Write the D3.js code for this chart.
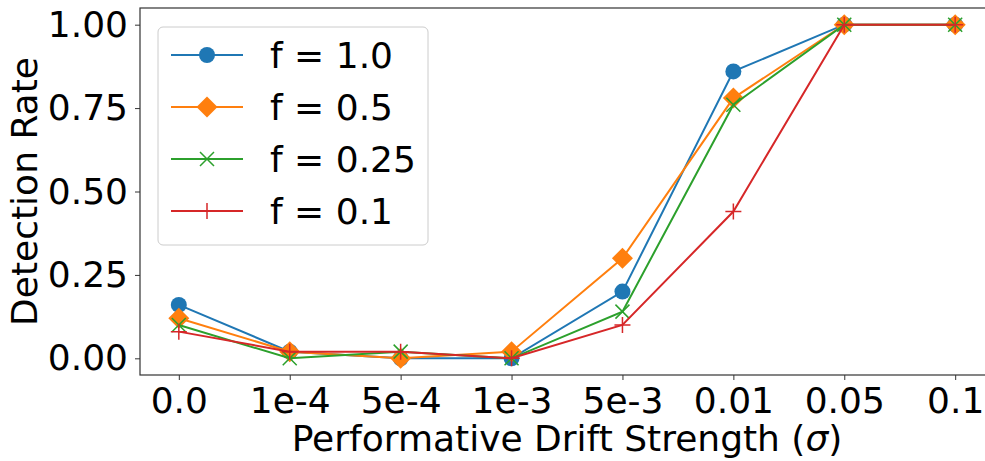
<!DOCTYPE html>
<html lang="en">
<head>
    <meta charset="UTF-8">
    <title>Detection Rate vs Performative Drift Strength</title>
    <script src="https://d3js.org/d3.v7.min.js"></script>
    <style>
        body { margin: 0; background-color: #fff; }
        svg { display: block; font-family: "DejaVu Sans", sans-serif; }
    </style>
</head>
<body>
    <div id="chart"></div>
    <script>
        // Data
        const categories = ["0.0", "1e-4", "5e-4", "1e-3", "5e-3", "0.01", "0.05", "0.1"];
        const yTicks = [0, 0.25, 0.5, 0.75, 1.0];
        const seriesNames = ["f = 1.0", "f = 0.5", "f = 0.25", "f = 0.1"];
        const f100 = [0.16, 0.02, 0.00, 0.00, 0.20, 0.86, 1.00, 1.00];
        const f050 = [0.12, 0.02, 0.00, 0.02, 0.30, 0.78, 1.00, 1.00];
        const f025 = [0.10, 0.00, 0.02, 0.00, 0.14, 0.76, 1.00, 1.00];
        const f010 = [0.08, 0.02, 0.02, 0.00, 0.10, 0.44, 1.00, 1.00];

        const colors = ["#1f77b4", "#ff7f0e", "#2ca02c", "#d62728"];
        const markers = ["circle", "diamond", "x", "plus"];
        const series = [f100, f050, f025, f010].map((vals, i) => ({
            name: seriesNames[i], values: vals, color: colors[i], marker: markers[i]
        }));

        const width = 985, height = 461;
        const fontSize = 36;

        const svg = d3.select("#chart").append("svg")
            .attr("width", width)
            .attr("height", height);

        // Scales (matplotlib-style 5% margins)
        const x = d3.scaleLinear().domain([-0.35, categories.length - 1 + 0.35]).range([140, 994]);
        const y = d3.scaleLinear().domain([-0.05, 1.05]).range([375, 8]);

        // Axes
        const xAxis = d3.axisBottom(x)
            .tickValues(d3.range(categories.length))
            .tickFormat(i => categories[i])
            .tickSize(5).tickPadding(7);
        const yAxis = d3.axisLeft(y)
            .tickValues(yTicks)
            .tickFormat(d3.format(".2f"))
            .tickSize(5).tickPadding(7);

        const gx = svg.append("g").attr("transform", `translate(0,${y.range()[0]})`).call(xAxis);
        const gy = svg.append("g").attr("transform", `translate(${x.range()[0]},0)`).call(yAxis);
        [gx, gy].forEach(g => {
            g.select(".domain").remove();
            g.selectAll(".tick line").attr("stroke", "#333").attr("stroke-width", 1);
            g.selectAll(".tick text")
                .attr("fill", "#000")
                .style("font-size", fontSize + "px")
                .style("font-family", "DejaVu Sans");
        });

        // Spines
        svg.append("rect")
            .attr("x", x.range()[0]).attr("y", y.range()[1])
            .attr("width", x.range()[1] - x.range()[0])
            .attr("height", y.range()[0] - y.range()[1])
            .attr("fill", "none").attr("stroke", "#333").attr("stroke-width", 1.2);

        // Axis labels
        svg.append("text")
            .attr("x", (x.range()[0] + x.range()[1]) / 2)
            .attr("y", 451)
            .attr("text-anchor", "middle")
            .style("font-size", fontSize + "px")
            .text("Performative Drift Strength (")
            .call(t => {
                t.append("tspan").style("font-style", "italic").text("σ");
                t.append("tspan").text(")");
            });

        svg.append("text")
            .attr("transform", `translate(37,${(y.range()[0] + y.range()[1]) / 2}) rotate(-90)`)
            .attr("text-anchor", "middle")
            .style("font-size", fontSize + "px")
            .text("Detection Rate");

        // Marker drawing
        function drawMarker(g, type, color) {
            if (type === "circle") {
                g.append("circle").attr("r", 8).attr("fill", color);
            } else if (type === "diamond") {
                g.append("path").attr("d", "M0,-10.5L10.5,0L0,10.5L-10.5,0Z").attr("fill", color);
            } else if (type === "x") {
                g.append("path").attr("d", "M-7,-7L7,7M-7,7L7,-7")
                    .attr("stroke", color).attr("stroke-width", 1.5).attr("fill", "none");
            } else {
                g.append("path").attr("d", "M-8,0L8,0M0,-8L0,8")
                    .attr("stroke", color).attr("stroke-width", 1.5).attr("fill", "none");
            }
        }

        const line = d3.line().x((d, i) => x(i)).y(d => y(d));

        // Series
        series.forEach(s => {
            const g = svg.append("g");
            g.append("path")
                .datum(s.values)
                .attr("d", line)
                .attr("fill", "none")
                .attr("stroke", s.color)
                .attr("stroke-width", 2);
            s.values.forEach((v, i) => {
                const m = g.append("g").attr("transform", `translate(${x(i)},${y(v)})`);
                drawMarker(m, s.marker, s.color);
            });
        });

        // Legend
        const legend = svg.append("g").attr("transform", "translate(158,27)");
        legend.append("rect")
            .attr("width", 270).attr("height", 218)
            .attr("rx", 5)
            .attr("fill", "#fff").attr("fill-opacity", 0.8)
            .attr("stroke", "#ccc").attr("stroke-width", 1);
        series.forEach((s, i) => {
            const row = legend.append("g").attr("transform", `translate(0,${28 + i * 52})`);
            row.append("line")
                .attr("x1", 13).attr("x2", 85)
                .attr("stroke", s.color).attr("stroke-width", 2);
            drawMarker(row.append("g").attr("transform", "translate(49,0)"), s.marker, s.color);
            row.append("text")
                .attr("x", 112).attr("y", 0)
                .attr("dy", "0.36em")
                .style("font-size", fontSize + "px")
                .text(s.name);
        });
    </script>
</body>
</html>
